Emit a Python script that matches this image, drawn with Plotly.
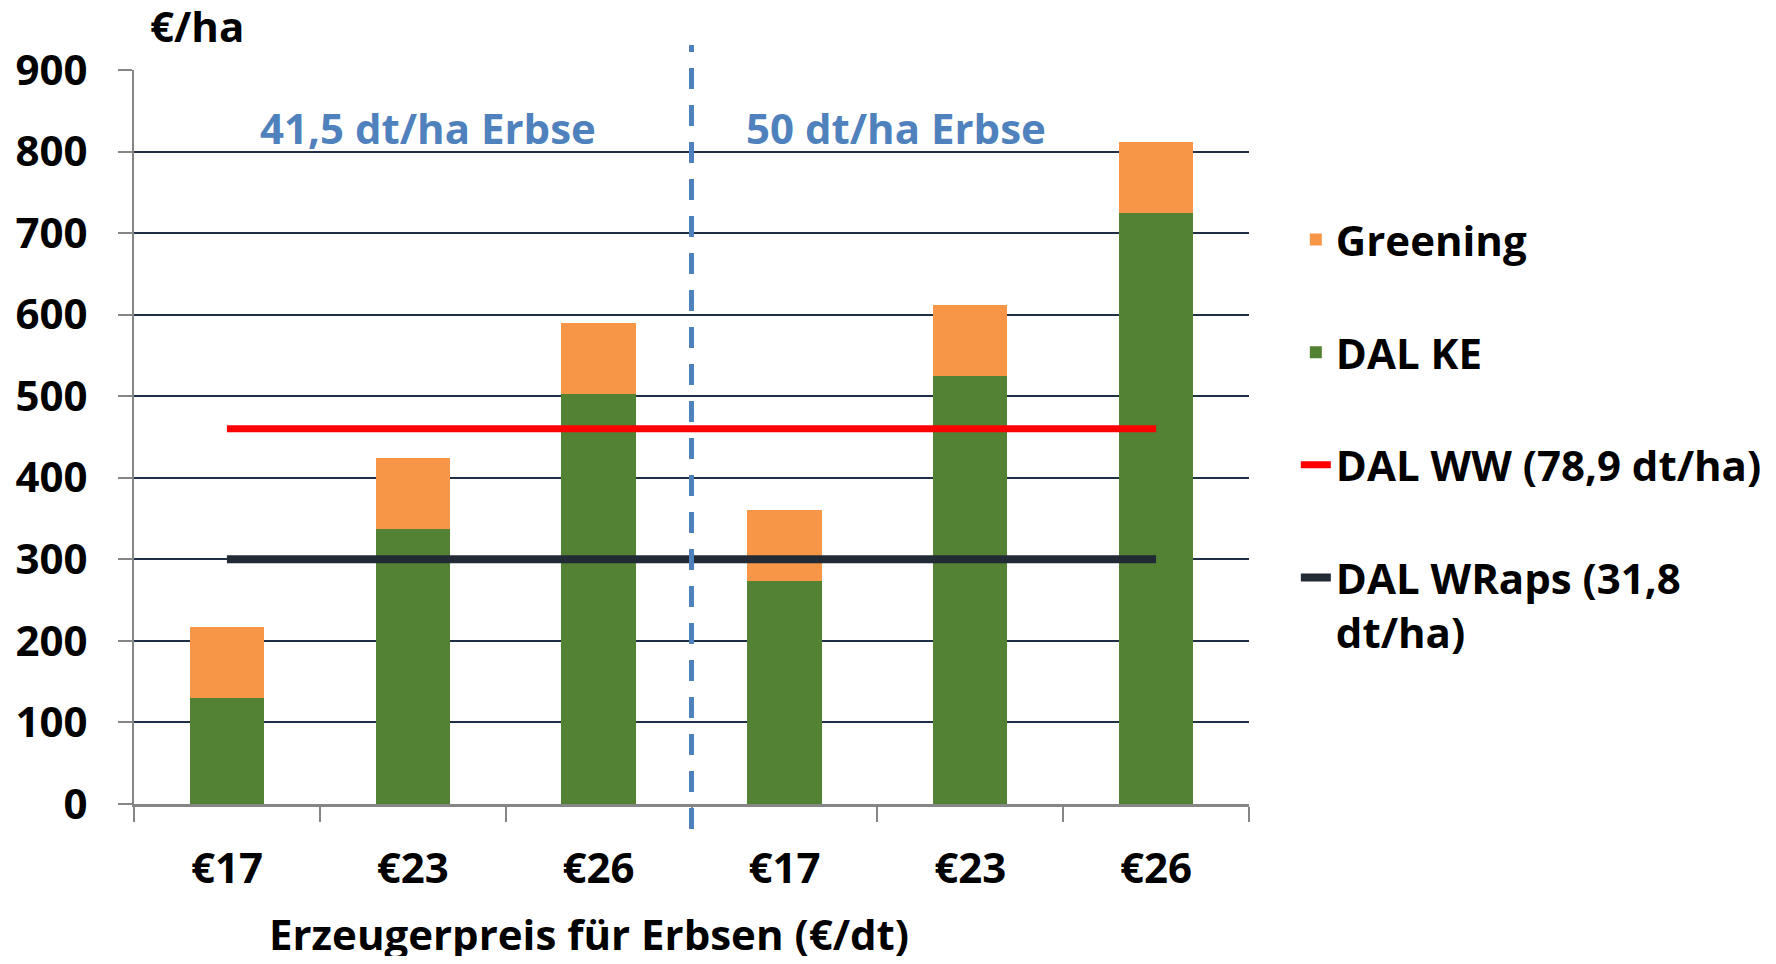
import plotly.graph_objects as go

# ---- data ----
categories = ["€17", "€23", "€26", "€17", "€23", "€26"]
dal_ke = [130, 337, 503, 274, 525, 725]
greening = [87, 87, 87, 87, 87, 87]
dal_ww = 460
dal_wraps = 300
group_labels = ["41,5 dt/ha Erbse", "50 dt/ha Erbse"]

FONT = "Open Sans"
FS = 42
GREEN = "#548235"
ORANGE = "#F79646"
RED = "#FF0000"
DARK = "#222A35"
BLUE = "#4F81BD"
AXIS_GRAY = "#868686"
GRID = "#1F2F45"

xpos = list(range(len(categories)))

fig = go.Figure()
fig.add_trace(go.Bar(x=xpos, y=dal_ke, name="DAL KE", marker=dict(color=GREEN, line=dict(width=0)),
                     width=0.4, legendrank=2, legendgroup="g2"))
fig.add_trace(go.Bar(x=xpos, y=greening, name="Greening", marker=dict(color=ORANGE, line=dict(width=0)),
                     width=0.4, legendrank=1, legendgroup="g1"))
fig.add_trace(go.Scatter(x=[xpos[0], xpos[-1]], y=[dal_ww, dal_ww], mode="lines",
                         name="DAL WW (78,9 dt/ha)", line=dict(color=RED, width=7),
                         legendrank=3, legendgroup="g3"))
fig.add_trace(go.Scatter(x=[xpos[0], xpos[-1]], y=[dal_wraps, dal_wraps], mode="lines",
                         name="DAL WRaps (31,8<br>dt/ha)", line=dict(color=DARK, width=8),
                         legendrank=4, legendgroup="g4"))

# dashed separator between the two yield groups
n = len(categories)
fig.add_shape(type="line", xref="x", yref="paper", x0=(n - 1) / 2, x1=(n - 1) / 2,
              y0=-0.034, y1=1.034, line=dict(color=BLUE, width=5, dash="21px,16px"), layer="above")

# group labels
fig.add_annotation(x=1.08, y=829, xref="x", yref="y", text=group_labels[0], showarrow=False,
                   font=dict(family=FONT, size=FS, color=BLUE, weight="bold"))
fig.add_annotation(x=3.6, y=829, xref="x", yref="y", text=group_labels[1], showarrow=False,
                   font=dict(family=FONT, size=FS, color=BLUE, weight="bold"))

# unit label
fig.add_annotation(x=0.0126, y=1.061, xref="paper", yref="paper", text="€/ha", showarrow=False,
                   xanchor="left", yanchor="middle",
                   font=dict(family=FONT, size=FS, color="black", weight="bold"))
# x title
fig.add_annotation(x=0.408, y=-0.176, xref="paper", yref="paper", text="Erzeugerpreis für Erbsen (€/dt)",
                   showarrow=False, xanchor="center", yanchor="middle",
                   font=dict(family=FONT, size=FS, color="black", weight="bold"))

fig.update_layout(
    width=1760, height=948,
    margin=dict(l=126, r=519, t=62, b=152, autoexpand=False),
    paper_bgcolor="white", plot_bgcolor="white",
    barmode="stack", bargap=0.6,
    font=dict(family=FONT, size=FS, color="black", weight="bold"),
    showlegend=True,
    legend=dict(x=1.042, y=0.815, xanchor="left", yanchor="top",
                traceorder="grouped", tracegroupgap=55, valign="top",
                font=dict(family=FONT, size=FS, color="black", weight="bold"),
                bgcolor="rgba(0,0,0,0)"),
    xaxis=dict(range=[-0.5, n - 0.5], tickmode="array", tickvals=xpos, ticktext=categories,
               ticks="", showgrid=False, zeroline=False,
               showline=True, linecolor=AXIS_GRAY, linewidth=2.5,
               ticklabelstandoff=26,
               minor=dict(tickmode="array", tickvals=[i - 0.5 for i in range(n + 1)],
                          ticks="outside", ticklen=15, tickcolor=AXIS_GRAY, tickwidth=2, showgrid=False),
               tickfont=dict(family=FONT, size=FS, color="black", weight="bold")),
    yaxis=dict(range=[0, 900], tickmode="linear", tick0=0, dtick=100,
               ticks="outside", ticklen=14, tickcolor=AXIS_GRAY, tickwidth=2,
               showgrid=True, gridcolor=GRID, gridwidth=2, zeroline=False,
               showline=True, linecolor=AXIS_GRAY, linewidth=2,
               ticklabelstandoff=22,
               tickfont=dict(family=FONT, size=FS, color="black", weight="bold")),
)

fig.write_html("out.html")
